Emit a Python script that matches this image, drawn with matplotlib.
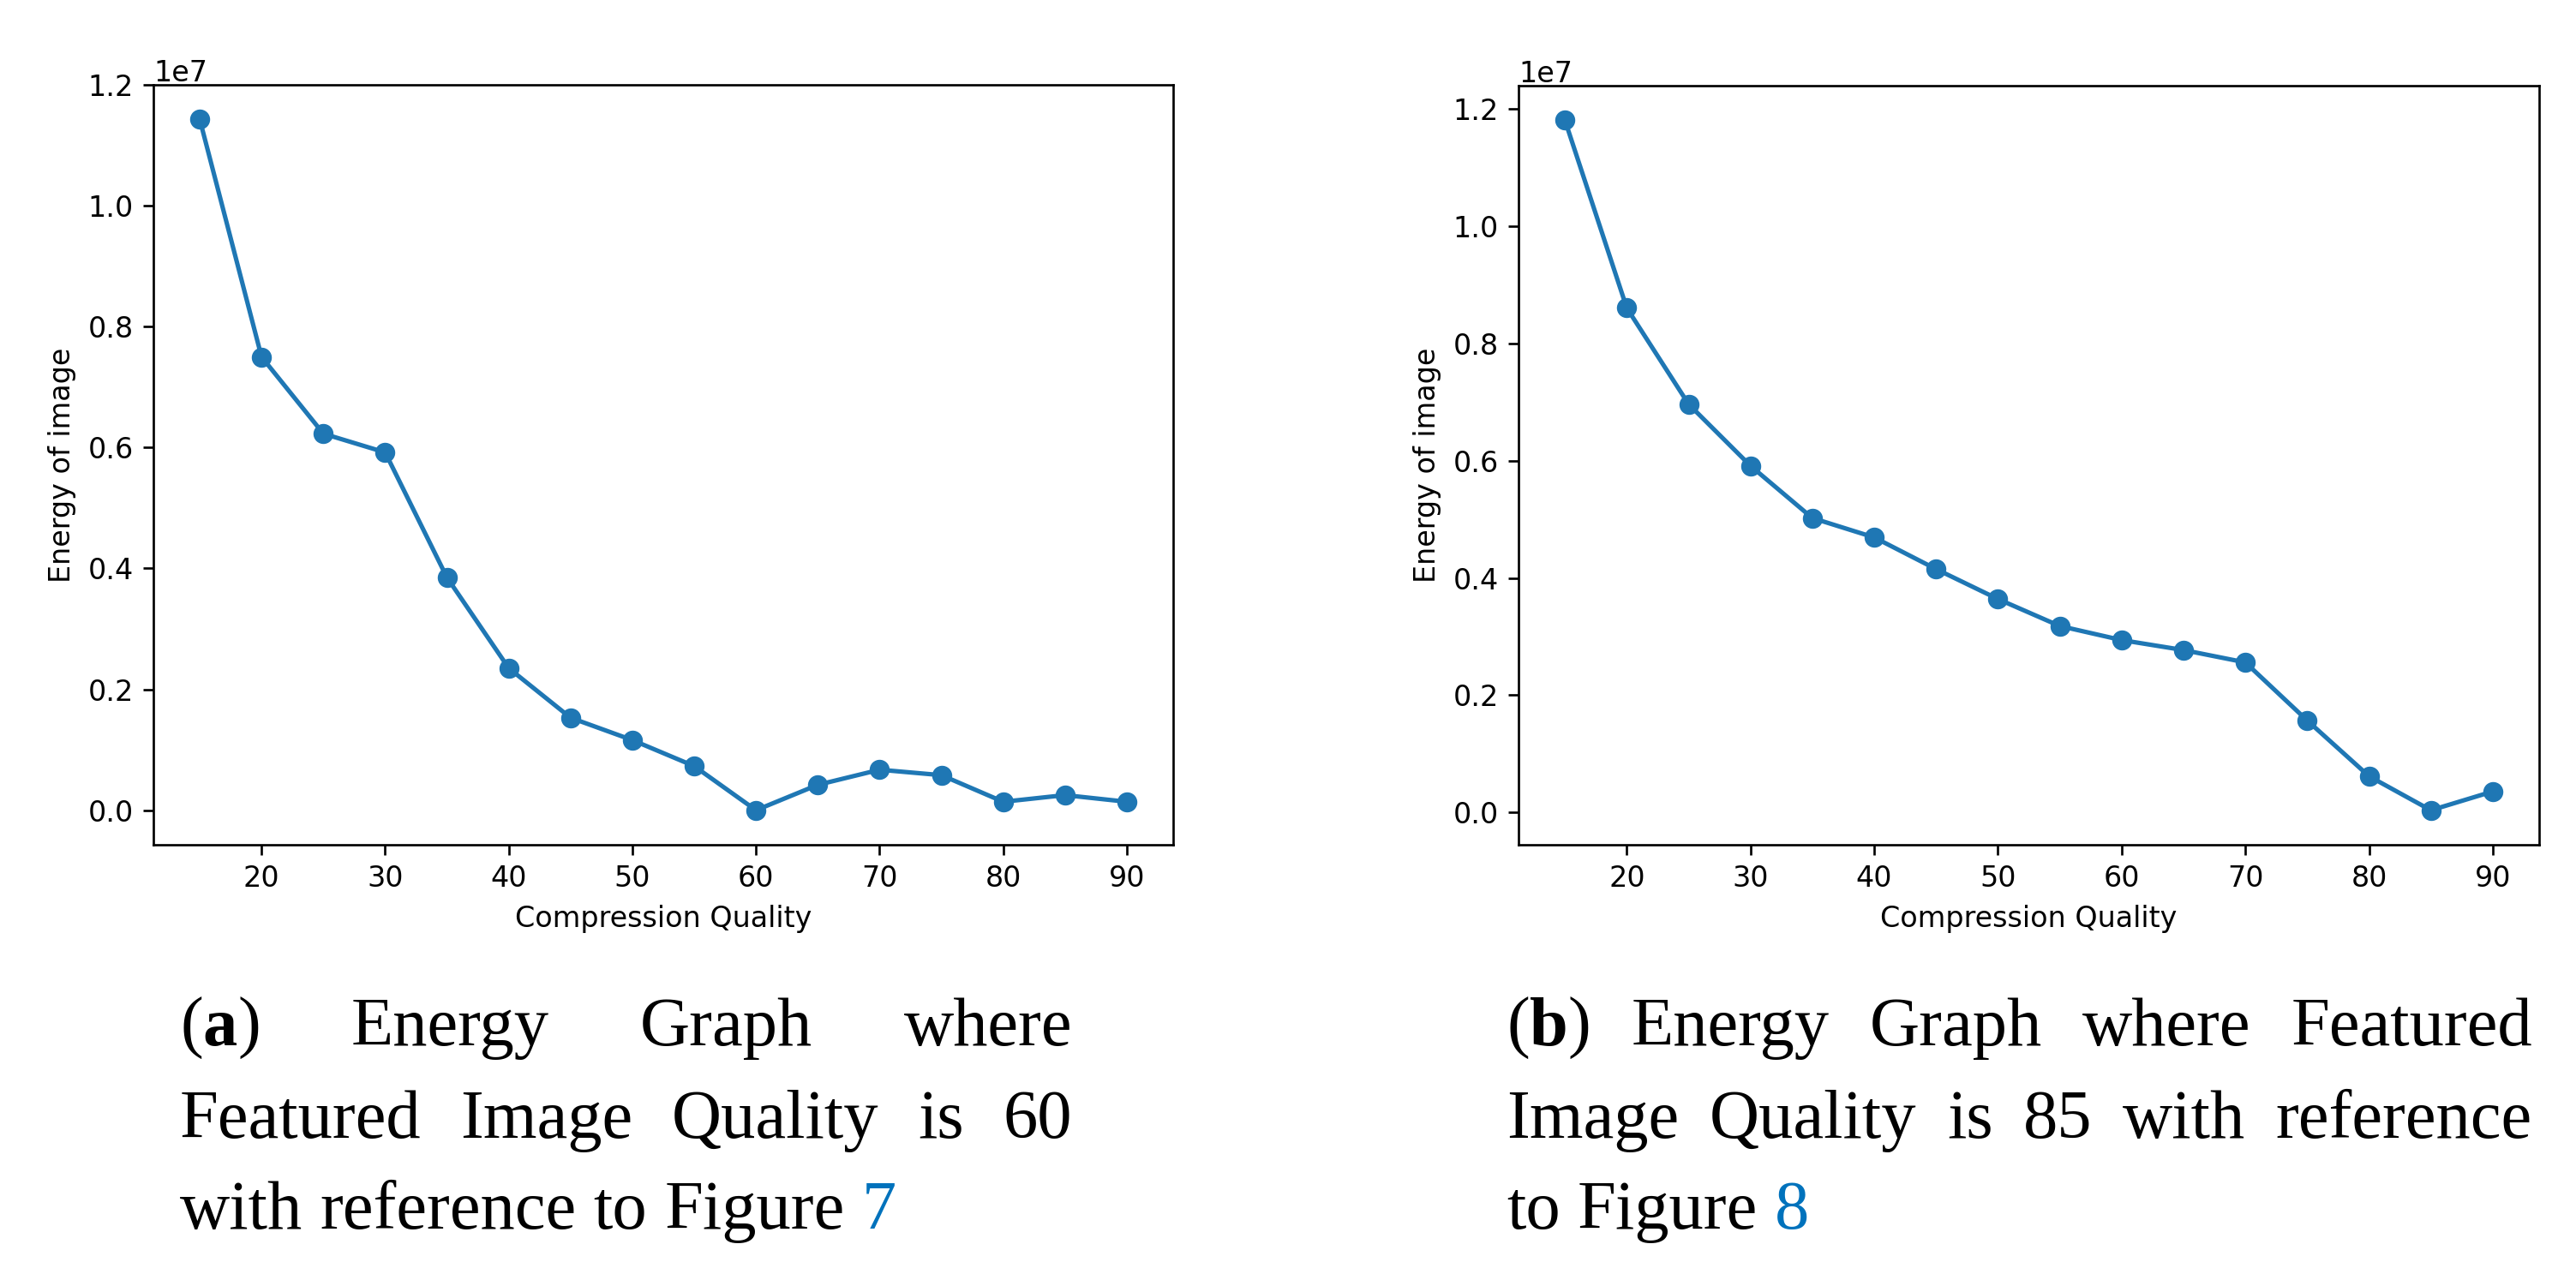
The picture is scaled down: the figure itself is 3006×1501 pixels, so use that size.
import matplotlib
matplotlib.use('Agg')
import matplotlib.pyplot as plt

""" Data """

quality = [15, 20, 25, 30, 35, 40, 45, 50, 55, 60, 65, 70, 75, 80, 85, 90]
energy_60 = [1.143, 0.750, 0.623, 0.592, 0.385, 0.235, 0.153, 0.116, 0.073, 0.0,
             0.042, 0.067, 0.058, 0.014, 0.025, 0.014]
energy_85 = [1.180, 0.860, 0.696, 0.591, 0.502, 0.469, 0.415, 0.364, 0.318, 0.294,
             0.277, 0.256, 0.157, 0.062, 0.004, 0.036]
energy_60 = [v * 1e7 for v in energy_60]
energy_85 = [v * 1e7 for v in energy_85]

caption_a = [
    [[('(', 'normal', 'k'), ('a', 'bold', 'k'), (')', 'normal', 'k')], [('Energy', 'normal', 'k')],
     [('Graph', 'normal', 'k')], [('where', 'normal', 'k')]],
    [[('Featured', 'normal', 'k')], [('Image', 'normal', 'k')], [('Quality', 'normal', 'k')],
     [('is', 'normal', 'k')], [('60', 'normal', 'k')]],
    [[('with', 'normal', 'k')], [('reference', 'normal', 'k')], [('to', 'normal', 'k')],
     [('Figure', 'normal', 'k')], [('7', 'normal', '#0072bc')]],
]
caption_b = [
    [[('(', 'normal', 'k'), ('b', 'bold', 'k'), (')', 'normal', 'k')], [('Energy', 'normal', 'k')],
     [('Graph', 'normal', 'k')], [('where', 'normal', 'k')], [('Featured', 'normal', 'k')]],
    [[('Image', 'normal', 'k')], [('Quality', 'normal', 'k')], [('is', 'normal', 'k')],
     [('85', 'normal', 'k')], [('with', 'normal', 'k')], [('reference', 'normal', 'k')]],
    [[('to', 'normal', 'k')], [('Figure', 'normal', 'k')], [('8', 'normal', '#0072bc')]],
]

""" Plot """

W, H = 3006, 1501
dpi = 100
S = 2.4  # scale of the original small matplotlib figure

plt.rcParams['font.family'] = ['DejaVu Sans']
plt.rcParams['font.size'] = 10 * S
plt.rcParams['axes.linewidth'] = 0.8 * S
for a in ('xtick', 'ytick'):
    plt.rcParams[a + '.major.size'] = 3.5 * S
    plt.rcParams[a + '.major.width'] = 0.8 * S
    plt.rcParams[a + '.major.pad'] = 3.5 * S
plt.rcParams['axes.labelpad'] = 4 * S

fig = plt.figure(figsize=(W / dpi, H / dpi), dpi=dpi)

def add_axes(x0, x1, y0, y1):
    return fig.add_axes([x0 / W, 1 - y1 / H, (x1 - x0) / W, (y1 - y0) / H])

ax1 = add_axes(179, 1369, 99, 986)
ax2 = add_axes(1772, 2963, 100, 986)

for ax, vals in ((ax1, energy_60), (ax2, energy_85)):
    ax.plot(quality, vals, marker='o', color='#1f77b4', linewidth=1.55 * S, markersize=6.6 * S)
    ax.set_xlabel('Compression Quality')
    ax.set_ylabel('Energy of image')
    ax.set_xticks([20, 30, 40, 50, 60, 70, 80, 90])

""" Captions """

cap_size = 58
serif = ['Liberation Serif', 'DejaVu Serif']
renderer = fig.canvas.get_renderer()
space = 0.25 * cap_size * dpi / 72

def draw_line(words, x0, y, width=None):
    placed = []
    for word in words:
        parts = []
        for txt, weight, col in word:
            t = fig.text(0, 1 - y / H, txt, fontsize=cap_size, family=serif,
                         fontweight=weight, color=col, va='baseline', ha='left')
            parts.append((t, t.get_window_extent(renderer).width))
        placed.append(parts)
    word_w = [sum(w for _, w in p) for p in placed]
    gap = space
    if width is not None and len(placed) > 1:
        gap = (width - sum(word_w)) / (len(placed) - 1)
    x = x0
    for parts, ww in zip(placed, word_w):
        xx = x
        for t, w in parts:
            t.set_x(xx / W)
            xx += w
        x += ww + gap

baselines = [1220, 1328, 1434]
for lines, x0, x1 in ((caption_a, 210, 1251), (caption_b, 1758, 2955)):
    for i, (words, y) in enumerate(zip(lines, baselines)):
        draw_line(words, x0, y, None if i == len(lines) - 1 else x1 - x0)

fig.savefig('out.png', dpi=dpi)
